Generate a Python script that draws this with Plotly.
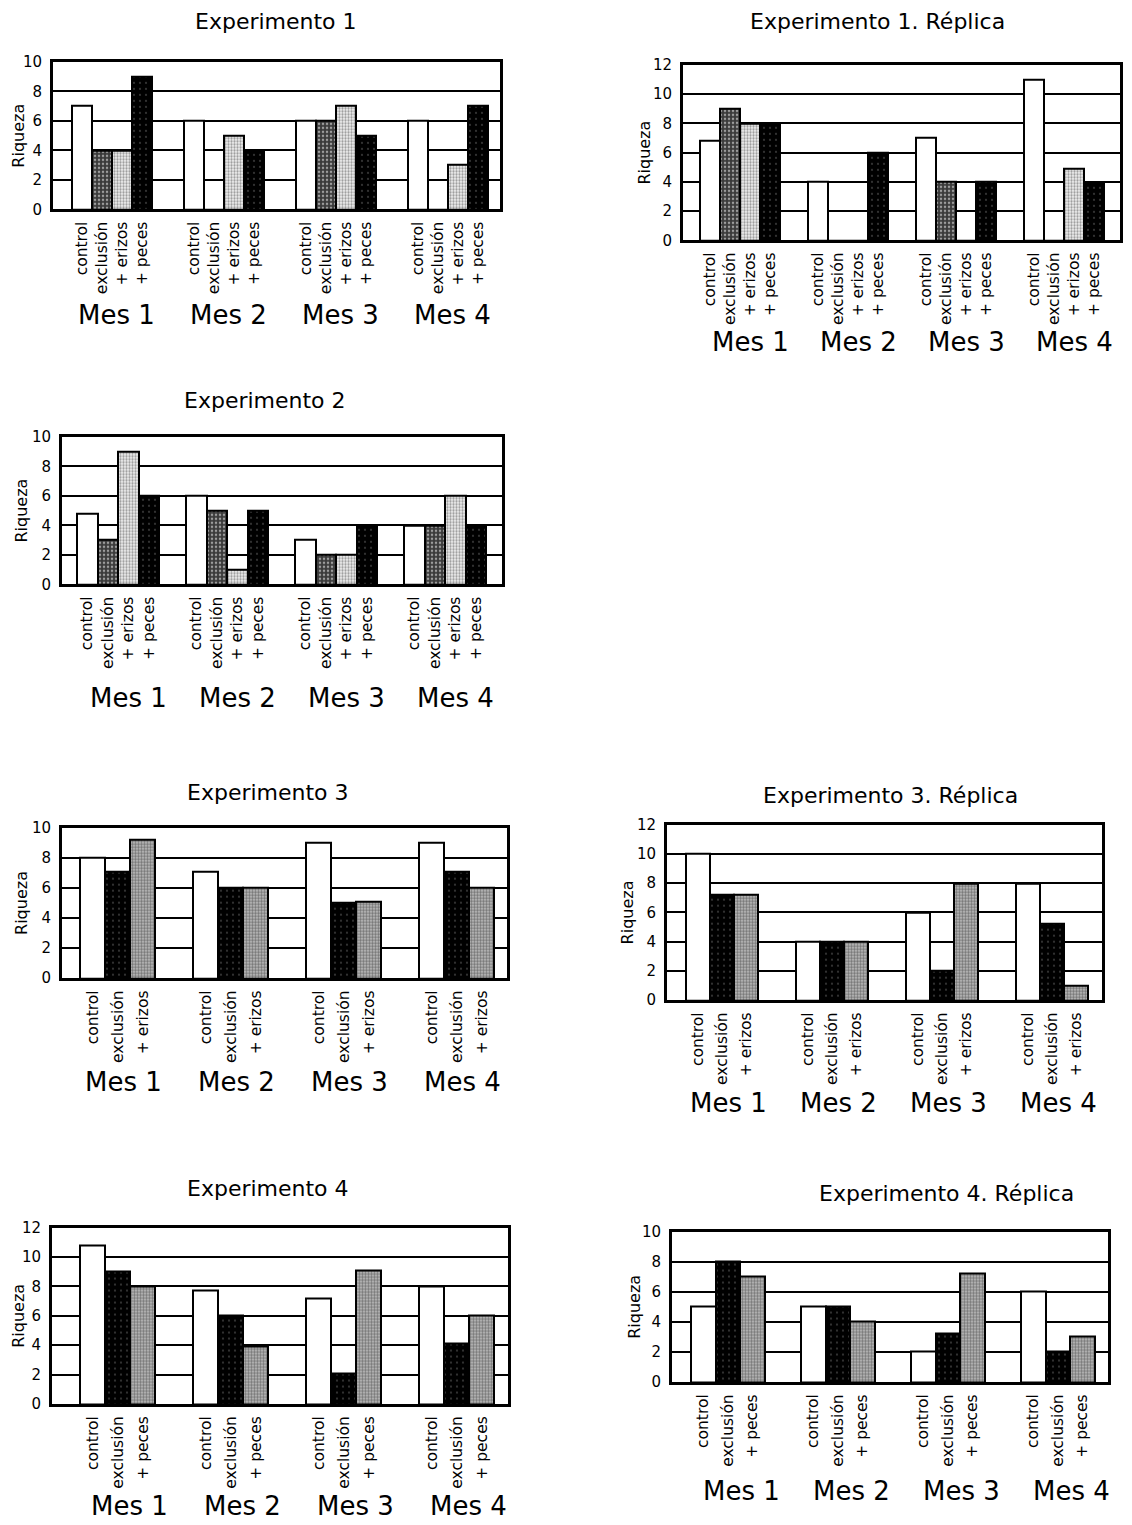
import plotly.graph_objects as go

W, H = 1132, 1525

meses = ["Mes 1", "Mes 2", "Mes 3", "Mes 4"]
trat_4 = ["control", "exclusión", "+ erizos", "+ peces"]
trat_erizos = ["control", "exclusión", "+ erizos"]
trat_peces = ["control", "exclusión", "+ peces"]

# riqueza por mes (Mes 1..4) para cada tratamiento
exp1_control = [7, 6, 6, 6]
exp1_exclusion = [4, 0, 6, 0]
exp1_erizos = [4, 5, 7, 3]
exp1_peces = [9, 4, 5, 7]

exp1r_control = [6.8, 4, 7, 11]
exp1r_exclusion = [9, 0, 4, 0]
exp1r_erizos = [8, 0, 0, 4.9]
exp1r_peces = [8, 6, 4, 3.9]

exp2_control = [4.8, 6, 3, 4]
exp2_exclusion = [3, 5, 2, 4]
exp2_erizos = [9, 1, 2, 6]
exp2_peces = [6, 5, 4, 4]

exp3_control = [8, 7.1, 9, 9]
exp3_exclusion = [7.1, 6, 5, 7.1]
exp3_erizos = [9.2, 6, 5.1, 6]

exp3r_control = [10, 4, 6, 8]
exp3r_exclusion = [7.2, 4, 2, 5.2]
exp3r_erizos = [7.2, 4, 8, 1]

exp4_control = [10.8, 7.7, 7.2, 8]
exp4_exclusion = [9, 6, 2.1, 4.1]
exp4_peces = [8, 3.9, 9.1, 6]

exp4r_control = [5, 5, 2, 6]
exp4r_exclusion = [8, 5, 3.2, 2]
exp4r_peces = [7, 4, 7.2, 3]

# bar fills
BLANCO = dict(color="white")
GRIS_OSCURO = dict(color="#4a4a4a", pattern=dict(shape=".", bgcolor="#3a3a3a", fgcolor="white", size=4, solidity=0.3))
GRIS_CLARO = dict(color="#c8c8c8", pattern=dict(shape=".", bgcolor="#f0f0f0", fgcolor="#444444", size=3, solidity=0.45))
NEGRO = dict(color="black", pattern=dict(shape=".", bgcolor="black", fgcolor="#777777", size=6, solidity=0.1))
GRIS_MEDIO = dict(color="#a0a0a0", pattern=dict(shape=".", bgcolor="#c4c4c4", fgcolor="#222222", size=3, solidity=0.55))

# panel placement in page pixels (left, top, right, bottom), bar width / group period in px
panels = [
    dict(title="Experimento 1", trat=trat_4, series=[exp1_control, exp1_exclusion, exp1_erizos, exp1_peces],
         fills=[BLANCO, GRIS_OSCURO, GRIS_CLARO, NEGRO], ymax=10,
         box=(53, 59, 500, 207), bw=20, period=112, off=19, title_xy=(276, 19), riq_x=19, mes_y=313, mes_dx=4),
    dict(title="Experimento 1. Réplica", trat=trat_4, series=[exp1r_control, exp1r_exclusion, exp1r_erizos, exp1r_peces],
         fills=[BLANCO, GRIS_OSCURO, GRIS_CLARO, NEGRO], ymax=12,
         box=(683, 62, 1120, 238), bw=20, period=108, off=17, title_xy=(877, 19), riq_x=645, mes_y=340, mes_dx=10),
    dict(title="Experimento 2", trat=trat_4, series=[exp2_control, exp2_exclusion, exp2_erizos, exp2_peces],
         fills=[BLANCO, GRIS_OSCURO, GRIS_CLARO, NEGRO], ymax=10,
         box=(62, 435, 502, 583), bw=20.5, period=109, off=15, title_xy=(265, 399), riq_x=22, mes_y=697, mes_dx=10),
    dict(title="Experimento 3", trat=trat_erizos, series=[exp3_control, exp3_exclusion, exp3_erizos],
         fills=[BLANCO, NEGRO, GRIS_MEDIO], ymax=10,
         box=(62, 827, 507, 978), bw=25, period=113, off=18, title_xy=(268, 792), riq_x=22, mes_y=1082, mes_dx=6),
    dict(title="Experimento 3. Réplica", trat=trat_erizos, series=[exp3r_control, exp3r_exclusion, exp3r_erizos],
         fills=[BLANCO, NEGRO, GRIS_MEDIO], ymax=12,
         box=(667, 824, 1102, 1000), bw=24, period=110, off=19, title_xy=(890, 795), riq_x=627, mes_y=1103, mes_dx=6),
    dict(title="Experimento 4", trat=trat_peces, series=[exp4_control, exp4_exclusion, exp4_peces],
         fills=[BLANCO, NEGRO, GRIS_MEDIO], ymax=12,
         box=(52, 1228, 508, 1405), bw=25, period=113, off=28, title_xy=(268, 1189), riq_x=19, mes_y=1507, mes_dx=12),
    dict(title="Experimento 4. Réplica", trat=trat_peces, series=[exp4r_control, exp4r_exclusion, exp4r_peces],
         fills=[BLANCO, NEGRO, GRIS_MEDIO], ymax=10,
         box=(672, 1232, 1108, 1383), bw=24.5, period=110, off=19, title_xy=(947, 1194), riq_x=635, mes_y=1492, mes_dx=14),
]


def py(y):
    # the captured page comes out slightly squeezed vertically; map target pixels to figure pixels
    return (y - 6) / 0.991


FONT = "DejaVu Sans"
fig = go.Figure()
annotations = []
layout = {}

for k, p in enumerate(panels, start=1):
    xa = "x" if k == 1 else f"x{k}"
    ya = "y" if k == 1 else f"y{k}"
    step = p["period"] / p["bw"]
    tickvals, ticktext = [], []
    for j, (name, vals, fill) in enumerate(zip(p["trat"], p["series"], p["fills"])):
        xs = [i * step + j for i in range(len(meses))]
        tickvals += xs
        ticktext += [name] * len(xs)
        fig.add_trace(go.Bar(
            x=xs, y=vals, width=1, name=name, xaxis=xa, yaxis=ya, showlegend=False,
            marker=dict(**fill, line=dict(color="black", width=2)),
        ))

    left, top, right, bottom = p["box"]
    top, bottom = py(top), py(bottom)
    x0 = -0.5 - p["off"] / p["bw"]
    x1 = x0 + (right - left) / p["bw"]
    layout["xaxis" if k == 1 else f"xaxis{k}"] = dict(
        domain=[left / W, right / W], anchor=ya, range=[x0, x1],
        tickmode="array", tickvals=tickvals, ticktext=ticktext, tickangle=-90,
        tickfont=dict(family=FONT, size=15.5, color="black"), ticks="", ticklabelstandoff=3,
        showline=True, mirror=True, linecolor="black", linewidth=3, showgrid=False, zeroline=False,
    )
    layout["yaxis" if k == 1 else f"yaxis{k}"] = dict(
        domain=[1 - bottom / H, 1 - top / H], anchor=xa, range=[0, p["ymax"]], dtick=2,
        tickfont=dict(family=FONT, size=15, color="black"), ticks="", ticklabelstandoff=5,
        showline=True, mirror=True, linecolor="black", linewidth=3,
        showgrid=True, gridcolor="black", gridwidth=1.5, zeroline=False,
    )

    tx, ty = p["title_xy"]
    annotations.append(dict(text=p["title"], x=tx / W, y=1 - py(ty) / H, xref="paper", yref="paper",
                            xanchor="center", yanchor="middle", showarrow=False,
                            font=dict(family=FONT, size=22, color="black")))
    annotations.append(dict(text="Riqueza", x=p["riq_x"] / W, y=1 - (top + bottom) / 2 / H,
                            xref="paper", yref="paper", xanchor="center", yanchor="middle",
                            textangle=-90, showarrow=False, font=dict(family=FONT, size=16, color="black")))
    ntr = len(p["trat"])
    for i, mes in enumerate(meses):
        cx = i * step + (ntr - 1) / 2 + p["mes_dx"] / p["bw"]
        annotations.append(dict(text=mes, x=cx, xref=xa, y=1 - py(p["mes_y"]) / H, yref="paper",
                                xanchor="center", yanchor="middle", showarrow=False,
                                font=dict(family=FONT, size=26, color="black")))

fig.update_layout(
    **layout,
    annotations=annotations,
    width=W, height=H, autosize=False,
    margin=dict(l=0, r=0, t=0, b=0),
    paper_bgcolor="white", plot_bgcolor="white",
    barmode="overlay", bargap=0,
)

# the fixed-size figure fills the window exactly: no page margin, no scrollbars
fig.write_html("out.html", config={"displayModeBar": False},
               post_script="document.body.style.margin = '0';"
                           "document.body.style.overflow = 'hidden';"
                           "document.documentElement.style.overflow = 'hidden';")
